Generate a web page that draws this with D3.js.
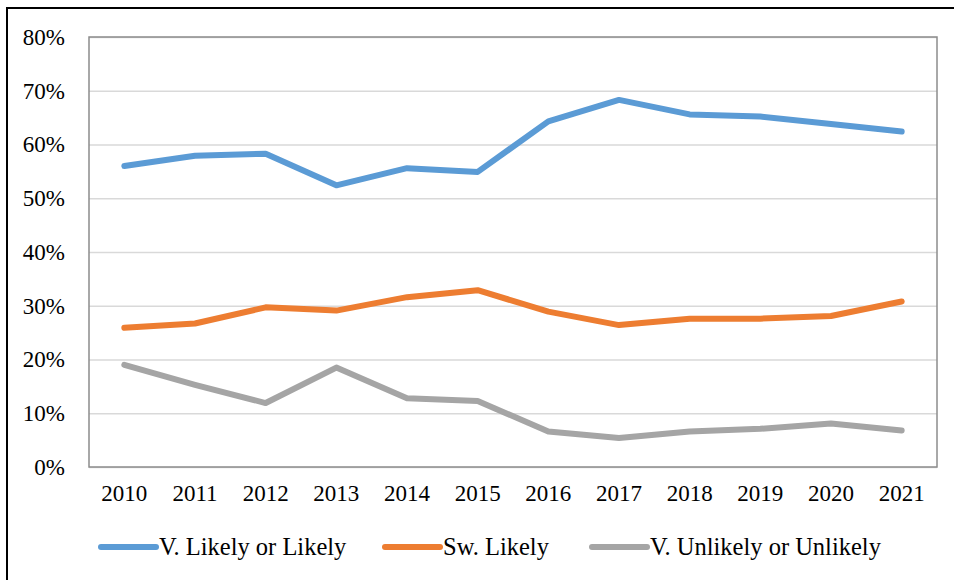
<!DOCTYPE html>
<html>
<head>
<meta charset="utf-8">
<script src="https://cdn.jsdelivr.net/npm/d3@7"></script>
<style>
  html, body { margin: 0; padding: 0; background: #fff; }
  svg { display: block; }
</style>
</head>
<body>
<svg></svg>
<script>
const years = ['2010', '2011', '2012', '2013', '2014', '2015', '2016', '2017', '2018', '2019', '2020', '2021'];
const likely = [56.0, 57.9, 58.3, 52.4, 55.6, 54.9, 64.3, 68.3, 65.6, 65.2, 63.8, 62.4];
const swLikely = [25.9, 26.7, 29.7, 29.1, 31.6, 32.9, 28.9, 26.4, 27.6, 27.6, 28.1, 30.8];
const unlikely = [19.0, 15.3, 11.9, 18.5, 12.8, 12.3, 6.6, 5.4, 6.6, 7.1, 8.1, 6.8];
const yTicks = [0, 10, 20, 30, 40, 50, 60, 70, 80];
const seriesNames = ['V. Likely or Likely', 'Sw. Likely', 'V. Unlikely or Unlikely'];
const colors = ['#5b9bd5', '#ed7d31', '#a5a5a5'];

const width = 954, height = 580;
const margin = {top: 37, right: 17, bottom: 113, left: 89};
const innerWidth = width - margin.left - margin.right;
const innerHeight = height - margin.top - margin.bottom;
const serif = '"Liberation Serif", "Times New Roman", serif';

const svg = d3.select('svg')
  .attr('width', width)
  .attr('height', height)
  .attr('font-family', serif);

// outer frame (only top and left edges are visible)
svg.append('path')
  .attr('d', `M7,${height} V8 H${width}`)
  .attr('fill', 'none')
  .attr('stroke', '#000')
  .attr('stroke-width', 2);

const xScale = d3.scaleBand()
  .domain(years)
  .range([0, innerWidth]);

const yScale = d3.scaleLinear()
  .domain([0, 80])
  .range([innerHeight, 0]);

const g = svg.append('g')
  .attr('transform', `translate(${margin.left}, ${margin.top})`);

// gridlines
g.append('g').call(d3.axisLeft(yScale)
  .tickValues(yTicks)
  .tickSize(-innerWidth)
  .tickFormat(''))
  .call(a => a.select('.domain').remove())
  .selectAll('line')
  .attr('stroke', '#d9d9d9')
  .attr('stroke-width', 1.5);

// y labels
g.append('g').call(d3.axisLeft(yScale)
  .tickValues(yTicks)
  .tickSize(0)
  .tickPadding(24)
  .tickFormat(d => d + '%'))
  .attr('font-family', serif)
  .attr('font-size', 23)
  .call(a => a.select('.domain').remove())
  .selectAll('text')
  .attr('fill', '#000');

// x labels
g.append('g')
  .attr('transform', `translate(0, ${innerHeight})`)
  .call(d3.axisBottom(xScale).tickSize(0).tickPadding(18))
  .attr('font-family', serif)
  .attr('font-size', 23)
  .call(a => a.select('.domain').remove())
  .selectAll('text')
  .attr('fill', '#000');

// plot border
g.append('rect')
  .attr('width', innerWidth)
  .attr('height', innerHeight)
  .attr('fill', 'none')
  .attr('stroke', '#8c8c8c')
  .attr('stroke-width', 1.5);

const line = d3.line()
  .x((d, i) => xScale(years[i]) + xScale.bandwidth() / 2)
  .y(d => yScale(d));

[likely, swLikely, unlikely].forEach((vals, i) => {
  g.append('path')
    .datum(vals)
    .attr('d', line)
    .attr('fill', 'none')
    .attr('stroke', colors[i])
    .attr('stroke-width', 6)
    .attr('stroke-linecap', 'round')
    .attr('stroke-linejoin', 'round');
});

// legend
const legendX = [101, 385, 592];
const legend = svg.append('g')
  .attr('transform', 'translate(0, 547)')
  .attr('font-size', 24.5);
seriesNames.forEach((name, i) => {
  legend.append('line')
    .attr('x1', legendX[i]).attr('x2', legendX[i] + 55)
    .attr('stroke', colors[i])
    .attr('stroke-width', 6)
    .attr('stroke-linecap', 'round');
  legend.append('text')
    .attr('x', legendX[i] + 58)
    .attr('dy', '0.33em')
    .attr('fill', '#000')
    .text(name);
});
</script>
</body>
</html>
